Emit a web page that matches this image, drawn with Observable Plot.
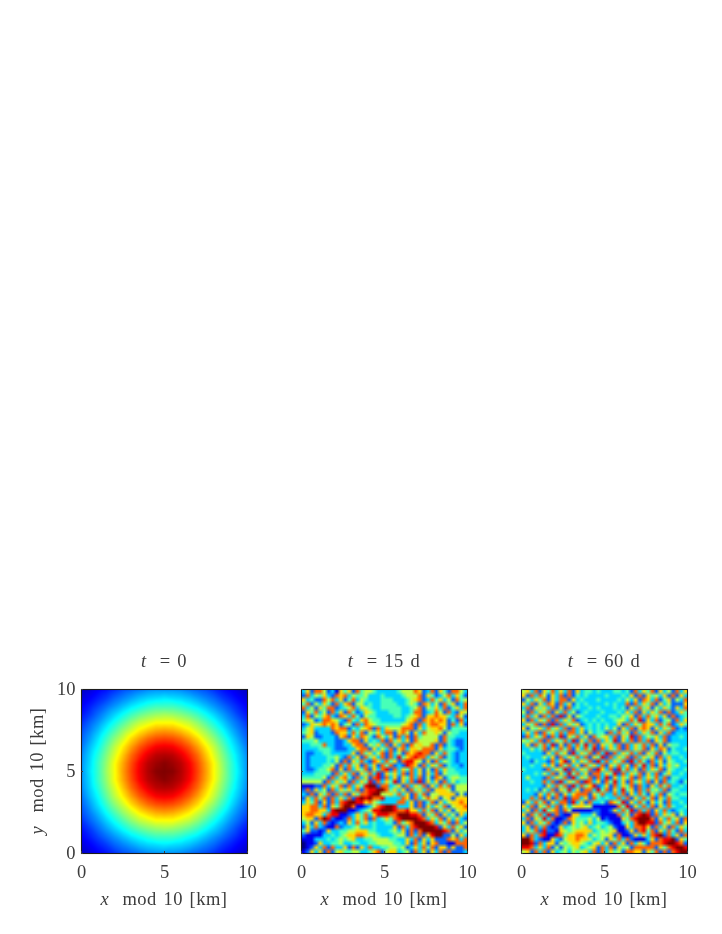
<!DOCTYPE html>
<html><head><meta charset="utf-8">
<script src="https://cdn.jsdelivr.net/npm/d3@7"></script>
<script src="https://cdn.jsdelivr.net/npm/@observablehq/plot@0.6"></script>
<style>
html,body{margin:0;padding:0;background:#fff}
#page{position:relative;width:722px;height:934px;overflow:hidden;filter:blur(0.6px);color:#3c3c3c;font-family:"Liberation Serif",serif}
#page svg{position:absolute;overflow:visible;background:none}
#page svg image{filter:blur(0.7px)}
.lab{position:absolute;white-space:pre;font-size:18.5px;letter-spacing:.5px;word-spacing:1.5px;transform:translate(-50%,-50%);line-height:1}
.lab.rot{transform:translate(-50%,-50%) rotate(-90deg)}
</style></head><body><div id="page"></div>
<script>
const ticks = [0, 5, 10];
const titles = ["= 0", "= 15 d", "= 60 d"];
const xLabel = "mod 10 [km]";
const yLabel = "mod 10 [km]";
const jetStops = [0, 0.125, 0.375, 0.625, 0.875, 1];
const jetColors = ["#00007f", "#0000ff", "#00ffff", "#ffff00", "#ff0000", "#7f0000"];

// t = 0: concentration in percent, 21 x 21
const t0 = [
[ 7, 9,12,14,17,20,22,24,26,27,27,27,26,24,22,20,17,14,12, 9, 7],
[ 9,12,15,18,22,25,28,31,33,34,35,34,33,31,28,25,22,18,15,12, 9],
[12,15,19,23,27,31,35,38,41,43,43,43,41,38,35,31,27,23,19,15,12],
[14,18,23,28,33,38,43,47,50,52,53,52,50,47,43,38,33,28,23,18,14],
[17,22,27,33,39,45,51,56,59,62,62,62,59,56,51,45,39,33,27,22,17],
[20,25,31,38,45,52,58,64,68,71,72,71,68,64,58,52,45,38,31,25,20],
[22,28,35,43,51,58,66,72,77,80,81,80,77,72,66,58,51,43,35,28,22],
[24,31,38,47,56,64,72,79,84,88,89,88,84,79,72,64,56,47,38,31,24],
[26,33,41,50,59,68,77,84,90,94,95,94,90,84,77,68,59,50,41,33,26],
[27,34,43,52,62,71,80,88,94,97,99,97,94,88,80,71,62,52,43,34,27],
[27,35,43,53,62,72,81,89,95,99,100,99,95,89,81,72,62,53,43,35,27],
[27,34,43,52,62,71,80,88,94,97,99,97,94,88,80,71,62,52,43,34,27],
[26,33,41,50,59,68,77,84,90,94,95,94,90,84,77,68,59,50,41,33,26],
[24,31,38,47,56,64,72,79,84,88,89,88,84,79,72,64,56,47,38,31,24],
[22,28,35,43,51,58,66,72,77,80,81,80,77,72,66,58,51,43,35,28,22],
[20,25,31,38,45,52,58,64,68,71,72,71,68,64,58,52,45,38,31,25,20],
[17,22,27,33,39,45,51,56,59,62,62,62,59,56,51,45,39,33,27,22,17],
[14,18,23,28,33,38,43,47,50,52,53,52,50,47,43,38,33,28,23,18,14],
[12,15,19,23,27,31,35,38,41,43,43,43,41,38,35,31,27,23,19,15,12],
[ 9,12,15,18,22,25,28,31,33,34,35,34,33,31,28,25,22,18,15,12, 9],
[ 7, 9,12,14,17,20,22,24,26,27,27,27,26,24,22,20,17,14,12, 9, 7]
];

// t = 15 d: colour level 0-9 read per cell, top row first
const t15 = [
"3627752316 4627455433 3334555762 3726427753",
"2735463276 7354453334 3333455572 6423573642",
"6342275736 2473543334 4433345672 3746352745",
"4725364273 6725534334 4443345427 6352746237",
"7352647723 4573654334 4444334572 5463724637",
"2647352736 2742365433 3444334772 3475273265",
"3725467327 6374254433 3344345672 6676643752",
"4652377653 2743675443 3333356727 6767624273",
"2365676762 4527376544 4444567273 6776627362",
"3563333767 7243567273 6555777263 5667524444",
"4562333276 6374725463 7726752637 5565254433",
"2652233326 7263764275 3627372745 5552744333",
"4445333322 3677263437 2746362755 5562743223",
"3344473322 3367725463 7263727565 5727243223",
"3333444322 2336772635 3726736657 7726344323",
"3223344333 3362746357 2735276787 7263743233",
"3233334453 2736274637 2738467877 3647243233",
"3233334352 7264732763 7462788652 6273543233",
"3233344527 3746273627 4723287627 3647243323",
"3223445726 2736472637 8273647362 5273644333",
"3334444273 6372647382 6463727362 6372544433",
"4444452736 7427362782 7362647372 5276245544",
"5555527364 6273648273 6482637282 6362735344",
"1112273647 2736489927 7346273647 2637472555",
"2726352736 4637278899 7463627463 7266652555",
"3272647273 7264778995 5647362747 2556666252",
"2637472736 3728989778 3333762735 7562562666",
"3647262737 8998867543 3337736272 4726356676",
"6677372647 9971123578 9983336272 6364725667",
"6677663899 9112345889 9987786637 4726362566",
"6776637881 1236473688 8779998872 6472635263",
"5662798211 2736472734 6478999987 3647263632",
"3526372123 2637463433 4427467999 8736472735",
"2637321172 3345333433 3362737899 9982637462",
"4622126334 4556664433 3453627279 9999872635",
"2111133434 5667765543 3345527372 6899225263",
"1113334345 4563344555 5443363726 3622276737",
"0112633445 3344334455 5544362736 2672211777",
"0126372733 6272637334 4554523637 4726626227",
"1263627256 4455334672 5663452736 2637272223"
];

// t = 60 d: colour level 0-9 read per cell, top row first
const t60 = [
"5637264736 3726344343 3344342736 4726352736",
"6273752637 2724343333 4333436272 6453627263",
"2536472637 7263433343 3334353627 6372462537",
"6372637627 3624343333 4343372736 4726352226",
"3726463726 2734334343 3343426374 6253642637",
"5273647263 7352343334 3334363726 3647272364",
"3736273728 2625433343 3443546273 7463627234",
"6273647273 6472343434 3345537482 6372452736",
"3647272827 3646234343 4336273647 6637472364",
"6254637463 7273634343 5352637267 6263647232",
"3637274637 3773625344 2737462736 4726372333",
"2736472738 2647362745 6372648273 5463723343",
"5463727364 7382637273 6482637273 7264723333",
"3627473826 2737483726 4637273647 3726254433",
"3353472637 4726374827 3647273647 2637624334",
"4333326374 6283647273 8273647372 6472534433",
"3433353627 3647372648 2736472736 4627363343",
"3324332736 8263647283 7364728374 2736254334",
"3343363627 4736274637 2647362748 3726364533",
"4333327364 8273647286 3728473627 3647254334",
"3334353726 3847362773 6482736472 6372463343",
"3533327364 7283647273 8263647273 6473724433",
"3343373728 3647287362 7483627463 7262734324",
"3333326374 7283746823 6273647273 2637473343",
"3434253726 4836277384 7263846273 7453724433",
"3332637472 6367772647 3373726374 2637254344",
"3373726273 8277362743 4337372637 4726374433",
"2637472637 7283627334 2764826374 2635273343",
"6372647372 6356655111 1117482637 3726374334",
"3627384672 7511111221 1263748273 7263732343",
"6274738272 1166333521 1117362789 8273646253",
"3726483711 2764445351 2111647899 9726374627",
"6273647212 7264536344 3211353799 8827463726",
"3627372126 3454563453 4521163778 6273627364",
"3647282216 5456666345 4561126278 4726374273",
"6273781187 4667763545 5627112636 3789273627",
"9973211632 5667665345 2647372111 3627889264",
"9982736625 4566543563 6273627364 2777899872",
"8873637252 5456345627 3726452777 7726478998",
"5627372634 5354563727 3645277662 6472727899"
];

const digitValues = rows => rows.flatMap(r => Array.from(r.replace(/ /g, ""), c => +c / 9));
const gridPoints = rows => {
  const n = rows.length;
  return rows.flatMap((r, j) => r.map((v, i) => ({x: i * 10 / (n - 1), y: 10 - j * 10 / (n - 1), v: v / 100})));
};
const page = document.getElementById("page");

function panel(rasterMark, left, showY) {
  const mL = 30, mR = 12, mT = 8, mB = 30, w = 166, h = 164;
  const svg = Plot.plot({
    width: w + mL + mR, height: h + mT + mB,
    marginLeft: mL, marginRight: mR, marginTop: mT, marginBottom: mB,
    style: {fontFamily: "Liberation Serif, serif", fontSize: "18.5px", color: "#3c3c3c", background: "none"},
    x: {domain: [0, 10], label: null},
    y: {domain: [0, 10], label: null},
    color: {type: "linear", domain: jetStops, range: jetColors, interpolate: "rgb", clamp: true},
    marks: [
      rasterMark,
      Plot.frame({stroke: "#1c1c1c", strokeWidth: 1.1}),
      Plot.axisX({ticks, tickSize: -2, tickPadding: 13, label: null}),
      showY ? Plot.axisY({ticks, tickSize: -2, tickPadding: 8, label: null})
            : Plot.axisY({ticks, tickSize: -2, tickFormat: () => "", label: null})
    ]
  });
  svg.style.left = (left - mL) + "px";
  svg.style.top = (689 - mT) + "px";
  page.appendChild(svg);
}
function label(html, x, y, cls) {
  const d = document.createElement("div");
  d.className = "lab" + (cls ? " " + cls : "");
  d.innerHTML = html;
  d.style.left = x + "px";
  d.style.top = y + "px";
  page.appendChild(d);
}
const grain = rows => Plot.raster(digitValues(rows), {width: 40, height: 40, x1: 0, x2: 10, y1: 10, y2: 0, fill: d => d});

panel(Plot.raster(gridPoints(t0), {x: "x", y: "y", fill: "v", interpolate: "barycentric", pixelSize: 1}), 81, true);
panel(grain(t15), 301, false);
panel(grain(t60), 521, false);

[164, 384, 604].forEach((cx, i) => {
  label(`<i>t</i>  ${titles[i]}`, cx, 661);
  label(`<i>x</i>  ${xLabel}`, cx, 899);
});
label(`<i>y</i>  ${yLabel}`, 37, 771, "rot");
</script></body></html>
